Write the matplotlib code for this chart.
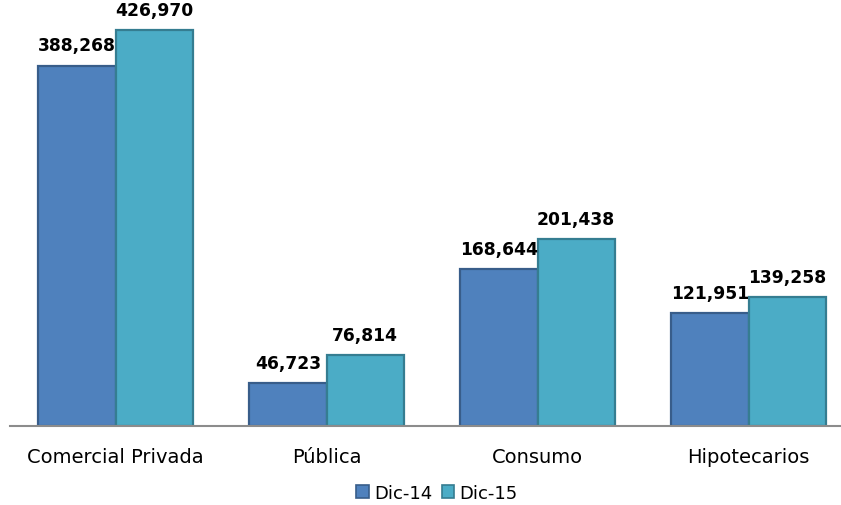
import matplotlib
matplotlib.use("Agg")
import matplotlib.pyplot as plt
from matplotlib.patches import Patch
import numpy as np

categories = ["Comercial Privada", "Pública", "Consumo", "Hipotecarios"]
series_names = ["Dic-14", "Dic-15"]
dic14 = [388268, 46723, 168644, 121951]
dic15 = [426970, 76814, 201438, 139258]

face_colors = ["#4F81BD", "#4BACC6"]
edge_colors = ["#385D8A", "#357D91"]

W, H = 841, 506
fig = plt.figure(figsize=(W / 100, H / 100), dpi=100)
ax = fig.add_axes([10 / W, 79 / H, 831 / W, 427 / H])

x = np.arange(len(categories))
width = 0.365
for vals, off, fc, ec in [(dic14, -width / 2, face_colors[0], edge_colors[0]),
                          (dic15, width / 2, face_colors[1], edge_colors[1])]:
    bars = ax.bar(x + off, vals, width, color=fc, edgecolor=ec, linewidth=1.6, zorder=2)
    for b, v in zip(bars, vals):
        ax.annotate(f"{v:,}", (b.get_x() + b.get_width() / 2, v),
                    xytext=(0, 8), textcoords="offset points",
                    ha="center", va="bottom", fontsize=12.3, fontweight="bold",
                    family="DejaVu Sans", color="#000000")

ax.set_xlim(-0.5, -0.5 + 831 / 211)
ax.set_ylim(0, 460000)
for s in ["top", "right", "left"]:
    ax.spines[s].set_visible(False)
ax.spines["bottom"].set_color("#8C8C8C")
ax.spines["bottom"].set_linewidth(1.5)
ax.set_yticks([])
ax.set_xticks(x)
ax.set_xticklabels(categories, fontsize=14, family="DejaVu Sans", color="#000000")
ax.tick_params(axis="x", length=0, pad=15)

handles = [Patch(facecolor=face_colors[i], edgecolor=edge_colors[i], linewidth=1.2,
                 label=series_names[i]) for i in range(2)]
fig.legend(handles=handles, loc="center", bbox_to_anchor=(437 / W, 1 - 494 / H),
           ncol=2, frameon=False, fontsize=13, handlelength=0.7, handleheight=0.7,
           handletextpad=0.3, columnspacing=0.5)

fig.savefig("out.png", dpi=100)
